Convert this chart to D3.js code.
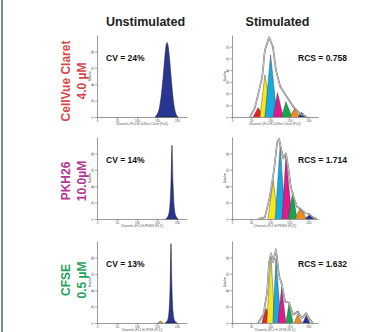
<!DOCTYPE html>
<html>
<head>
<meta charset="utf-8">
<script src="https://cdn.jsdelivr.net/npm/d3@7"></script>
<style>
  html, body { margin: 0; padding: 0; background: #fff; }
  svg { display: block; font-family: Arial, "Liberation Sans", sans-serif; }
</style>
</head>
<body>
<div id="chart"></div>
<script>
// ---- data ----
const columns = ["Unstimulated", "Stimulated"];
const dyes = ["CellVue Claret", "PKH26", "CFSE"];
const doses = ["4.0 µM", "10.0µM", "0.5 µM"];
const channelTitles = [
  "Channels (FL4-H-CellVue Claret (FL4))",
  "Channels (FL2-H-PKH26 (FL2))",
  "Channels (FL1-H-CFSE (FL1))"
];
const cvLabels = ["CV = 24%", "CV = 14%", "CV = 13%"];
const rcsLabels = ["RCS = 0.758", "RCS = 1.714", "RCS = 1.632"];
const xTicks = [0, 50, 100, 150, 200];
const xMax = 225;
const unstimYMax = [100, 100, 100];
const stimYMax = [70, 100, 100];
const unstimYTicks = [0, 20, 40, 60, 80];
const stimYTicks = [[0, 10, 20, 30, 40, 50, 60], [0, 20, 40, 60, 80], [0, 20, 40, 60, 80]];

// unstimulated histograms: [channel, count]
const unstimPeaks = [
  [[145,0],[150,3],[155,9],[160,24],[165,47],[169,70],[172,85],[175,91],[178,86],[182,68],[186,45],[190,24],[194,10],[198,3],[203,0]],
  [[172,0],[178,4],[182,15],[185,45],[187.5,90],[190,45],[193,15],[197,4],[203,0]],
  [[170,0],[176,3],[180,14],[183,50],[185,97],[187,50],[190,14],[194,3],[200,0]]
];
const unstimMinor = [null, null, [[152,0],[159,2.5],[165,0]]];

// stimulated, fitted generations: [start, centre, end, height]
const generations = ["Gen 1", "Gen 2", "Gen 3", "Gen 4", "Gen 5", "Gen 6", "Gen 7"];
const stimPeaks = [
  [[55,68,86,8],[73,86,105,36],[86,101,118,53],[108,119,134,21],[130,141,157,13],[152,163,178,7],[173,182,194,4]],
  [null,[94,108,120,48],[113,126,139,90],[131,141,157,77],[147,159,170,33],[165,178,196,13],[191,202,217,5]],
  [[78,89,105,18],[91,102,112,83],[107,115,128,79],[120,130,141,44],[141,149,160,23],[163,172,183,11],[185,194,204,9]]
];
// stimulated raw histogram outline: [channel, count]
const stimEnvelopes = [
  [[47,0],[60,8],[79,34],[86,57],[97,68],[107,60],[115,40],[126,26],[144,17],[160,9],[178,3],[196,0]],
  [[68,0],[86,2],[99,27],[110,60],[118,93],[123,98],[128,87],[134,74],[141,80],[147,63],[154,39],[161,27],[170,15],[178,13],[191,7],[202,6],[212,2],[222,0]],
  [[68,0],[82,10],[92,38],[97,74],[102,85],[108,74],[115,90],[123,58],[131,46],[139,26],[149,25],[160,10],[172,14],[183,6],[194,12],[204,4],[212,0]]
];

// ---- styles ----
const dyeColors = ["#d8474a", "#b23594", "#1fa45a"];
const genColors = ["#e3262a", "#f7e81a", "#17a9e1", "#e2198a", "#16a64e", "#f08b22", "#2b3191"];
const unstimFill = "#283593";

const width = 386, height = 332;
const rowTop = [35, 137, 241], plotH = 82;
const colLeft = [97, 232], colW = [90, 86];

const svg = d3.select("#chart").append("svg")
  .attr("width", width)
  .attr("height", height);

// blue title, cut off by the top edge as in the source
svg.append("text")
  .attr("x", 4).attr("y", -4.6)
  .attr("textLength", 379).attr("lengthAdjust", "spacing")
  .style("font-size", "26px").style("font-weight", "bold")
  .attr("fill", "#1b8fd6")
  .text("Using Cell Tracker Labels (FCM)");

// left frame line
svg.append("line")
  .attr("x1", 2).attr("x2", 2).attr("y1", 0).attr("y2", height)
  .attr("stroke", "#3d5670").attr("stroke-width", 1.4);

// column headers
columns.forEach((c, i) => {
  svg.append("text")
    .attr("x", colLeft[i] + (i === 0 ? 48.5 : 45.5)).attr("y", 26)
    .attr("text-anchor", "middle")
    .style("font-size", "12.5px").style("font-weight", "bold")
    .attr("fill", "#222")
    .text(c);
});

// row labels
const rowCenter = [81, 181, 280];
dyes.forEach((d, i) => {
  const g = svg.append("g")
    .attr("transform", `translate(0,${rowCenter[i]}) rotate(-90)`);
  g.append("text").attr("x", 0).attr("y", 70)
    .attr("text-anchor", "middle")
    .style("font-size", "12px").style("font-weight", "bold")
    .attr("fill", dyeColors[i]).text(d);
  g.append("text").attr("x", 0).attr("y", 86)
    .attr("text-anchor", "middle")
    .style("font-size", "12px").style("font-weight", "bold")
    .attr("fill", dyeColors[i]).text(doses[i]);
});

function drawAxes(g, x, y, yTicks, title) {
  const xa = g.append("g").attr("transform", `translate(0,${plotH})`);
  xa.call(d3.axisBottom(x).tickValues(d3.range(0, xMax + 1, 10)).tickSize(1.4).tickSizeOuter(0).tickFormat(""));
  xa.call(d3.axisBottom(x).tickValues(xTicks).tickSize(2.2).tickSizeOuter(0).tickPadding(0.3));
  const ya = g.append("g");
  ya.call(d3.axisLeft(y).tickValues(d3.range(0, y.domain()[1] + 0.1, 5)).tickSize(1.4).tickSizeOuter(0).tickFormat(""));
  ya.call(d3.axisLeft(y).tickValues(yTicks).tickSize(2.2).tickSizeOuter(0));
  ya.selectAll("text")
    .attr("x", 0).attr("dy", 0)
    .attr("text-anchor", "middle")
    .attr("transform", "translate(-2.8,0) rotate(-90)");
  g.selectAll(".domain").attr("stroke", "#555").attr("stroke-width", 0.6);
  g.selectAll(".tick line").attr("stroke", "#555").attr("stroke-width", 0.5);
  g.selectAll(".tick text").style("font-size", "3px").attr("fill", "#555");
  g.append("text")
    .attr("x", (x.range()[0] + x.range()[1]) / 2).attr("y", plotH + 7.8)
    .attr("text-anchor", "middle")
    .style("font-size", "3px").attr("fill", "#555")
    .text(title);
  g.append("text")
    .attr("transform", `translate(-6,${plotH / 2}) rotate(-90)`)
    .attr("text-anchor", "middle")
    .style("font-size", "3px").attr("fill", "#555")
    .text("Number");
}

dyes.forEach((d, r) => {
  // unstimulated
  {
    const g = svg.append("g").attr("transform", `translate(${colLeft[0]},${rowTop[r]})`);
    const x = d3.scaleLinear().domain([0, xMax]).range([0, colW[0]]);
    const y = d3.scaleLinear().domain([0, unstimYMax[r]]).range([plotH, 0]);
    drawAxes(g, x, y, unstimYTicks, channelTitles[r]);
    const area = d3.area().x(p => x(p[0])).y0(plotH).y1(p => y(p[1])).curve(d3.curveMonotoneX);
    if (unstimMinor[r]) {
      g.append("path").datum(unstimMinor[r]).attr("d", area)
        .attr("fill", genColors[5]).attr("stroke", "#666").attr("stroke-width", 0.4);
    }
    g.append("path").datum(unstimPeaks[r]).attr("d", area)
      .attr("fill", unstimFill).attr("stroke", "#222").attr("stroke-width", 0.5);
    svg.append("text")
      .attr("x", 106).attr("y", rowTop[r] + 26)
      .style("font-size", "8.5px").style("font-weight", "bold").attr("fill", "#111")
      .text(cvLabels[r]);
  }
  // stimulated
  {
    const g = svg.append("g").attr("transform", `translate(${colLeft[1]},${rowTop[r]})`);
    const x = d3.scaleLinear().domain([0, xMax]).range([0, colW[1]]);
    const y = d3.scaleLinear().domain([0, stimYMax[r]]).range([plotH, 0]);
    drawAxes(g, x, y, stimYTicks[r], channelTitles[r]);
    const line = d3.line().x(p => x(p[0])).y(p => y(p[1]));
    stimPeaks[r].forEach((pk, k) => {
      if (!pk) return;
      const pts = [[pk[0], 0], [pk[1], pk[3]], [pk[2], 0]];
      g.append("path").datum(pts).attr("d", line)
        .attr("fill", genColors[k]).attr("stroke", "#333").attr("stroke-width", 0.4)
        .append("title").text(generations[k]);
    });
    g.append("path").datum(stimEnvelopes[r]).attr("d", line)
      .attr("fill", "none").attr("stroke", "#555").attr("stroke-width", 1.6)
      .attr("stroke-linejoin", "round");
    g.append("path").datum(stimEnvelopes[r]).attr("d", line)
      .attr("fill", "none").attr("stroke", "#fff").attr("stroke-width", 0.7)
      .attr("stroke-linejoin", "round");
    svg.append("text")
      .attr("x", 298).attr("y", rowTop[r] + 26)
      .style("font-size", "8.5px").style("font-weight", "bold").attr("fill", "#111")
      .text(rcsLabels[r]);
  }
});
</script>
</body>
</html>
